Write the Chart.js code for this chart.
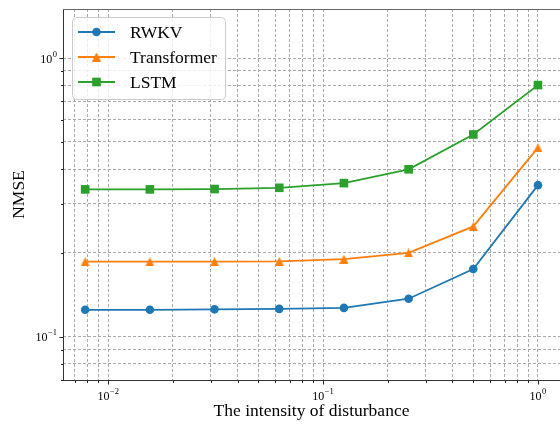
<!DOCTYPE html>
<html>
<head>
<meta charset="utf-8">
<script src="https://cdn.jsdelivr.net/npm/chart.js@4/dist/chart.umd.min.js"></script>
<style>
  html, body { margin: 0; padding: 0; background: #fff; }
  #wrap { width: 560px; height: 426px; overflow: hidden; }
</style>
</head>
<body>
<div id="wrap"><canvas id="chart" width="560" height="426"></canvas></div>
<script>
// ─── data
const intensity   = [0.0078125, 0.015625, 0.03125, 0.0625, 0.125, 0.25, 0.5, 1];
const rwkv        = [0.125, 0.125, 0.1255, 0.126, 0.127, 0.137, 0.175, 0.35];
const transformer = [0.186, 0.186, 0.186, 0.1865, 0.19, 0.2, 0.249, 0.477];
const lstm        = [0.338, 0.338, 0.339, 0.3425, 0.356, 0.399, 0.532, 0.80];

const seriesNames = ['RWKV', 'Transformer', 'LSTM'];

// ticks / grid
const xMajor = [0.01, 0.1, 1];
const xMajorLabels = [['10', '\u22122'], ['10', '\u22121'], ['10', '0']];
const xMinor = [0.007, 0.008, 0.009, 0.02, 0.03, 0.04, 0.05, 0.06, 0.07, 0.08, 0.09,
                0.2, 0.3, 0.4, 0.5, 0.6, 0.7, 0.8, 0.9];
const yMajor = [0.1, 1];
const yMajorLabels = [['10', '\u22121'], ['10', '0']];
const yMinor = [0.07, 0.08, 0.09, 0.2, 0.3, 0.4, 0.5, 0.6, 0.7, 0.8, 0.9];

const X_MIN = 0.00616, X_MAX = 1.266;
const Y_MIN = 0.07, Y_MAX = 1.5;

const SERIF = '"Liberation Serif", "DejaVu Serif", serif';
const BLUE = '#1f77b4', ORANGE = '#ff7f0e', GREEN = '#2ca02c';

// matplotlib-style "^" marker, centred on its bounding box
function triangleMarker(size, color) {
  const c = document.createElement('canvas');
  c.width = size; c.height = size;
  const g = c.getContext('2d');
  g.fillStyle = color;
  g.beginPath();
  g.moveTo(size / 2, 0);
  g.lineTo(size, size);
  g.lineTo(0, size);
  g.closePath();
  g.fill();
  return c;
}
const triMark = triangleMarker(9, ORANGE);

function pts(ys) {
  return intensity.map((x, i) => ({ x: x, y: ys[i] }));
}

// ─── axis text, tick marks, spines, legend
const decorPlugin = {
  id: 'decor',
  afterDraw(chart) {
    const { ctx, chartArea: a } = chart;
    const xs = chart.scales.x, ys = chart.scales.y;
    ctx.save();

    // spines
    ctx.strokeStyle = '#333';
    ctx.lineWidth = 1;
    ctx.beginPath();
    ctx.moveTo(a.left + 0.5, a.top);
    ctx.lineTo(a.left + 0.5, a.bottom);
    ctx.moveTo(a.left, a.bottom + 0.5);
    ctx.lineTo(a.right, a.bottom + 0.5);
    ctx.stroke();
    ctx.strokeStyle = '#666';
    ctx.beginPath();
    ctx.moveTo(a.left, a.top + 0.5);
    ctx.lineTo(a.right, a.top + 0.5);
    ctx.stroke();

    // tick marks
    ctx.strokeStyle = '#222';
    ctx.beginPath();
    xMajor.concat(xMinor).forEach(v => {
      const px = Math.round(xs.getPixelForValue(v)) + 0.5;
      const len = xMajor.includes(v) ? 3.5 : 2;
      ctx.moveTo(px, a.bottom + 1);
      ctx.lineTo(px, a.bottom + 1 + len);
    });
    yMajor.concat(yMinor).forEach(v => {
      const py = Math.round(ys.getPixelForValue(v)) + 0.5;
      const len = yMajor.includes(v) ? 3.5 : 2;
      ctx.moveTo(a.left, py);
      ctx.lineTo(a.left - len, py);
    });
    ctx.stroke();

    // tick labels: 10 with superscript exponent
    ctx.fillStyle = '#000';
    ctx.textBaseline = 'alphabetic';
    const baseFont = '12px ' + SERIF, supFont = '8.5px ' + SERIF;
    function measure(parts) {
      ctx.font = baseFont; const w1 = ctx.measureText(parts[0]).width;
      ctx.font = supFont;  const w2 = ctx.measureText(parts[1]).width;
      return [w1, w2];
    }
    function draw(parts, left, base) {
      const [w1] = measure(parts);
      ctx.font = baseFont; ctx.textAlign = 'left';
      ctx.fillText(parts[0], left, base);
      ctx.font = supFont;
      ctx.fillText(parts[1], left + w1 + 0.5, base - 6);
    }
    xMajor.forEach((v, i) => {
      const [w1, w2] = measure(xMajorLabels[i]);
      const cx = xs.getPixelForValue(v);
      draw(xMajorLabels[i], cx - (w1 + w2 + 0.5) / 2, 400);
    });
    yMajor.forEach((v, i) => {
      const [w1, w2] = measure(yMajorLabels[i]);
      const cy = ys.getPixelForValue(v);
      draw(yMajorLabels[i], 57 - (w1 + w2 + 0.5), cy + 4.5);
    });

    // axis titles
    ctx.font = '17.5px ' + SERIF;
    ctx.textAlign = 'center';
    ctx.textBaseline = 'alphabetic';
    ctx.fillText('The intensity of disturbance', (a.left + 560) / 2, 416);
    ctx.save();
    ctx.translate(24, (a.top + a.bottom) / 2);
    ctx.rotate(-Math.PI / 2);
    ctx.fillText('NMSE', 0, 0);
    ctx.restore();

    // legend
    const bx = 72, by = 17, bw = 153, bh = 82, r = 4;
    ctx.fillStyle = 'rgba(255,255,255,0.8)';
    ctx.strokeStyle = '#cccccc';
    ctx.lineWidth = 1;
    ctx.beginPath();
    ctx.roundRect(bx + 0.5, by + 0.5, bw, bh, r);
    ctx.fill();
    ctx.stroke();

    chart.data.datasets.forEach((ds, i) => {
      const y = 32 + i * 25;
      ctx.strokeStyle = ds.borderColor;
      ctx.lineWidth = ds.borderWidth;
      ctx.beginPath();
      ctx.moveTo(78, y);
      ctx.lineTo(115, y);
      ctx.stroke();
      ctx.fillStyle = ds.borderColor;
      if (ds.pointStyle === 'circle') {
        ctx.beginPath();
        ctx.arc(96.5, y, ds.pointRadius, 0, Math.PI * 2);
        ctx.fill();
      } else if (ds.pointStyle === 'rect') {
        const s = ds.pointRadius * Math.SQRT1_2;
        ctx.fillRect(96.5 - s, y - s, 2 * s, 2 * s);
      } else {
        ctx.drawImage(ds.pointStyle, 96.5 - ds.pointStyle.width / 2, y - ds.pointStyle.height / 2);
      }
      ctx.fillStyle = '#000';
      ctx.font = '17.5px ' + SERIF;
      ctx.textAlign = 'left';
      ctx.textBaseline = 'middle';
      ctx.fillText(ds.label, 130, y + 1);
    });

    ctx.restore();
  }
};

function gridTicks(list) {
  return function (scale) {
    scale.ticks = list.map(v => ({ value: v }));
  };
}

new Chart(document.getElementById('chart'), {
  type: 'line',
  data: {
    datasets: [
      { label: seriesNames[0], data: pts(rwkv), borderColor: BLUE, backgroundColor: BLUE,
        borderWidth: 1.8, pointStyle: 'circle', pointRadius: 4.3, pointBorderWidth: 0 },
      { label: seriesNames[1], data: pts(transformer), borderColor: ORANGE, backgroundColor: ORANGE,
        borderWidth: 1.8, pointStyle: triMark, pointRadius: 4.5, pointBorderWidth: 0 },
      { label: seriesNames[2], data: pts(lstm), borderColor: GREEN, backgroundColor: GREEN,
        borderWidth: 1.8, pointStyle: 'rect', pointRadius: 6.1, pointBorderWidth: 0 }
    ]
  },
  options: {
    responsive: false,
    animation: false,
    devicePixelRatio: 1,
    layout: { autoPadding: false, padding: { left: 63, top: 9, right: 0, bottom: 46 } },
    plugins: { legend: { display: false }, tooltip: { enabled: false } },
    elements: { line: { tension: 0 } },
    scales: {
      x: {
        type: 'logarithmic', min: X_MIN, max: X_MAX,
        afterBuildTicks: gridTicks(xMajor.concat(xMinor)),
        ticks: { display: false },
        grid: { color: '#aaaaaa', lineWidth: 1, drawTicks: false },
        border: { display: false, dash: [3, 2] }
      },
      y: {
        type: 'logarithmic', min: Y_MIN, max: Y_MAX,
        afterBuildTicks: gridTicks(yMajor.concat(yMinor)),
        ticks: { display: false },
        grid: { color: '#aaaaaa', lineWidth: 1, drawTicks: false },
        border: { display: false, dash: [3, 2] }
      }
    }
  },
  plugins: [decorPlugin]
});
</script>
</body>
</html>
